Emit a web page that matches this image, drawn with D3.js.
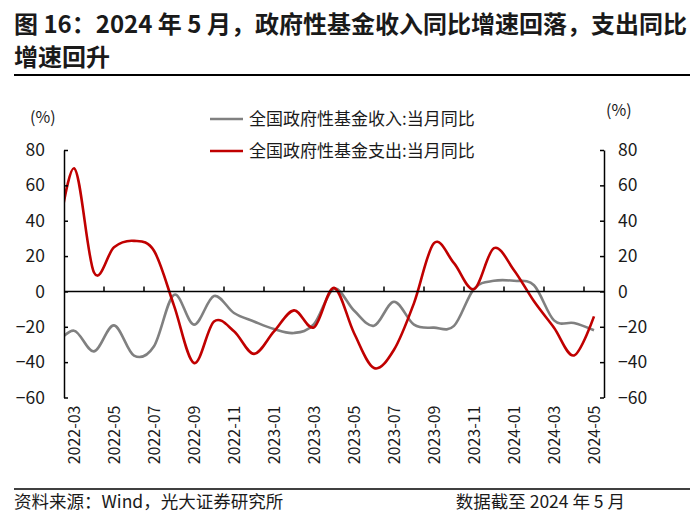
<!DOCTYPE html>
<html>
<head>
<meta charset="utf-8">
<script src="https://cdn.jsdelivr.net/npm/d3@7"></script>
<style>
  body { margin: 0; background: #fff; }
  text { font-family: "Noto Sans CJK SC", "Noto Sans", sans-serif; fill: #1a1a1a; }
</style>
</head>
<body>
<svg id="canvas" width="700" height="524"></svg>
<script>
// 2022-02 is only there so the smoothed line enters from the left edge (clipped)
let months = ['2022-02', '2022-03', '2022-04', '2022-05', '2022-06', '2022-07', '2022-08', '2022-09', '2022-10',
  '2022-11', '2022-12', '2023-01', '2023-02', '2023-03', '2023-04', '2023-05', '2023-06', '2023-07',
  '2023-08', '2023-09', '2023-10', '2023-11', '2023-12', '2024-01', '2024-02', '2024-03', '2024-04', '2024-05']

let incomeYoY = [-31, -22.2, -33.9, -19.2, -36.3, -31, -1.9, -18.8, -2.6,
  -12.2, -17, -21.3, -23.5, -18.5, 1.5, -10.8, -19.4, -5.8,
  -18.8, -20.5, -19.5, 1.5, 6, 6, 3.5, -16.4, -17.9, -22]

let spendingYoY = [16, 69.7, 10.7, 25, 28.6, 23, -8, -40.5, -17,
  -22.5, -35.3, -22.6, -10.7, -20.3, 2, -23.5, -43.3, -33,
  -6.6, 27.3, 16, 1.3, 24.5, 12, -5.6, -20.5, -36.2, -14.1]

let xLabels = ['2022-03', '2022-05', '2022-07', '2022-09', '2022-11', '2023-01', '2023-03',
  '2023-05', '2023-07', '2023-09', '2023-11', '2024-01', '2024-03', '2024-05']
let yTicks = [-60, -40, -20, 0, 20, 40, 60, 80]

let seriesNames = ['全国政府性基金收入:当月同比', '全国政府性基金支出:当月同比']
let seriesColors = ['#808080', '#c00000']

let canvas = d3.select('#canvas')
let plotLeft = 64, plotRight = 604, plotTop = 150, plotBottom = 397.5
let step = (plotRight - plotLeft) / (months.length - 1)

let x = d3.scaleBand().domain(months).range([plotLeft - step, plotRight])
let y = d3.scaleLinear().domain([-60, 80]).range([plotBottom, plotTop])
let cx = (m) => x(m) + x.bandwidth() / 2

// title
canvas.append('text').attr('x', 14).attr('y', 33)
  .style('font-size', '24px').style('font-weight', 700)
  .text('图 16：2024 年 5 月，政府性基金收入同比增速回落，支出同比')
canvas.append('text').attr('x', 14).attr('y', 66)
  .style('font-size', '24px').style('font-weight', 700)
  .text('增速回升')
canvas.append('line').attr('x1', 14).attr('x2', 690).attr('y1', 75).attr('y2', 75)
  .attr('stroke', '#000').attr('stroke-width', 2)

// clip so the lead-in month stays hidden
canvas.append('clipPath').attr('id', 'plot-clip')
  .append('rect').attr('x', plotLeft).attr('y', 0).attr('width', plotRight - plotLeft).attr('height', 524)

// lines
let line = d3.line()
  .x((d, i) => cx(months[i]))
  .y((d) => y(d))
  .curve(d3.curveCatmullRom.alpha(0))

;[incomeYoY, spendingYoY].forEach((s, k) => {
  canvas.append('path')
    .datum(s)
    .attr('d', line)
    .attr('clip-path', 'url(#plot-clip)')
    .attr('fill', 'none')
    .attr('stroke', seriesColors[k])
    .attr('stroke-width', 2.6)
})

// y axes, ticks pointing inward
let leftAxis = canvas.append('g').attr('transform', `translate(${plotLeft},0)`)
  .call(d3.axisLeft(y).tickValues(yTicks).tickSizeInner(-4).tickSizeOuter(0).tickPadding(19))
let rightAxis = canvas.append('g').attr('transform', `translate(${plotRight},0)`)
  .call(d3.axisRight(y).tickValues(yTicks).tickSizeInner(-4).tickSizeOuter(0).tickPadding(14))
;[leftAxis, rightAxis].forEach((g) => {
  g.select('.domain').attr('stroke', '#000').attr('stroke-width', 1.5)
  g.selectAll('.tick line').attr('stroke', '#000').attr('stroke-width', 1.5)
  g.selectAll('.tick text').style('font-size', '17.5px').attr('fill', '#1a1a1a')
    .style('font-family', '"Noto Sans CJK SC", sans-serif')
})

// x axis along zero
canvas.append('line').attr('x1', plotLeft).attr('x2', plotRight).attr('y1', y(0)).attr('y2', y(0))
  .attr('stroke', '#000').attr('stroke-width', 1.5)
canvas.selectAll('.xtick')
  .data(xLabels.slice(1))
  .enter()
  .append('line')
  .attr('x1', (m) => x(m)).attr('x2', (m) => x(m))
  .attr('y1', y(0)).attr('y2', y(0) - 5)
  .attr('stroke', '#000').attr('stroke-width', 1.5)
canvas.selectAll('.xlabel')
  .data(xLabels)
  .enter()
  .append('text')
  .attr('transform', (m) => `translate(${cx(m) + 5.5},${plotBottom + 8}) rotate(-90)`)
  .attr('text-anchor', 'end')
  .style('font-size', '16px')
  .text((m) => m)

// (%) units
canvas.append('text').attr('x', 30).attr('y', 123).style('font-size', '16px').text('(%)')
canvas.append('text').attr('x', 606).attr('y', 116).style('font-size', '16px').text('(%)')

// legend
seriesNames.forEach((name, k) => {
  let ly = 119 + k * 32
  canvas.append('line').attr('x1', 210).attr('x2', 243).attr('y1', ly).attr('y2', ly)
    .attr('stroke', seriesColors[k]).attr('stroke-width', 2.6)
  canvas.append('text').attr('x', 249).attr('y', ly + 6).style('font-size', '17px').text(name)
})

// footer
canvas.append('line').attr('x1', 14).attr('x2', 690).attr('y1', 489).attr('y2', 489)
  .attr('stroke', '#000').attr('stroke-width', 1.5)
canvas.append('text').attr('x', 14).attr('y', 508).style('font-size', '17.5px')
  .text('资料来源：Wind，光大证券研究所')
canvas.append('text').attr('x', 625).attr('y', 508).attr('text-anchor', 'end').style('font-size', '17.5px')
  .text('数据截至 2024 年 5 月')
</script>
</body>
</html>
